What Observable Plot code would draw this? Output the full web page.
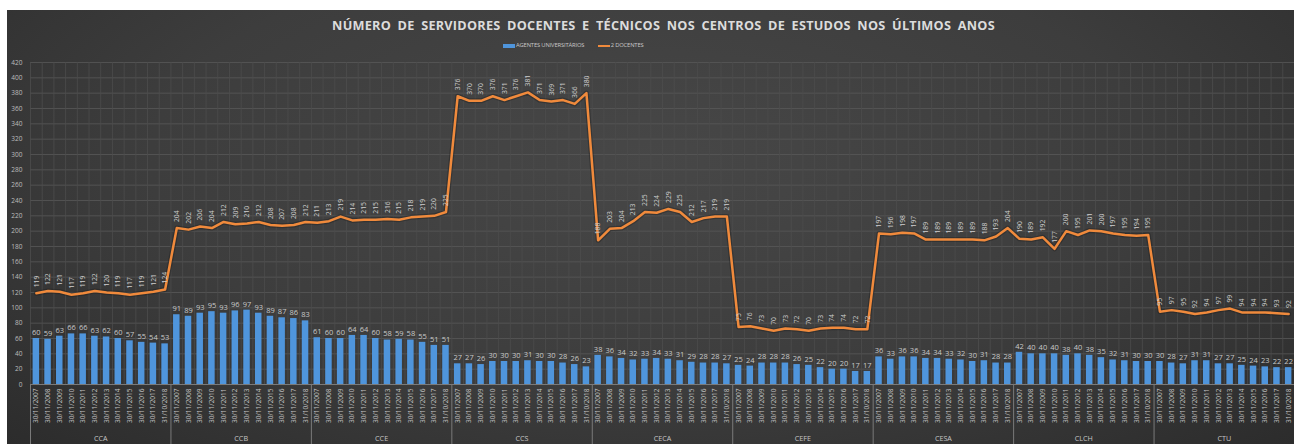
<!DOCTYPE html>
<html>
<head>
<meta charset="utf-8">
<script src="https://cdn.jsdelivr.net/npm/d3@7"></script>
<script src="https://cdn.jsdelivr.net/npm/@observablehq/plot@0.6"></script>
<style>
  html, body { margin: 0; padding: 0; background: #ffffff; }
  #frame {
    position: absolute; left: 7px; top: 10px; width: 1287px; height: 434px;
    background: radial-gradient(ellipse at 50% 35%, #474747 0%, #3d3d3d 55%, #2c2c2c 100%);
    font-family: "Open Sans", sans-serif; overflow: hidden;
  }
  #title {
    position: absolute; left: 26px; top: 6px; width: 1261px; text-align: center;
    color: #dcdcdc; font-weight: 700; font-size: 12.7px; letter-spacing: 0.25px; word-spacing: 3px;
  }
  #legend {
    position: absolute; left: 496px; top: 31px; white-space: nowrap;
    color: #c8c8c8; font-size: 5.8px; letter-spacing: -0.15px;
  }
  #legend span.item { display: inline-block; margin-right: 12px; vertical-align: middle; }
  #legend i { display: inline-block; width: 12px; vertical-align: middle; margin-right: 1px; }
  #chart { position: absolute; left: 0; top: 42px; }
</style>
</head>
<body>
<div id="frame">
  <div id="title">NÚMERO DE SERVIDORES DOCENTES E TÉCNICOS NOS CENTROS DE ESTUDOS NOS ÚLTIMOS ANOS</div>
  <div id="legend">
    <span class="item"><i style="height:4px;background:#4f95dc"></i>AGENTES UNIVERSITÁRIOS</span>
    <span class="item"><i style="height:2px;background:#f08a3c"></i>2 DOCENTES</span>
  </div>
  <div id="chart"></div>
</div>
<script>
const groups = ["CCA", "CCB", "CCE", "CCS", "CECA", "CEFE", "CESA", "CLCH", "CTU"];
const dates = ["30/11/2007", "30/11/2008", "30/11/2009", "30/11/2010", "30/11/2011", "30/11/2012",
               "30/11/2013", "30/11/2014", "30/11/2015", "30/11/2016", "30/11/2017", "31/10/2018"];
const yTicks = d3.range(0, 421, 20);

// Agentes universitários (bars), one list per centro
const agentesCCA  = [60, 59, 63, 66, 66, 63, 62, 60, 57, 55, 54, 53];
const agentesCCB  = [91, 89, 93, 95, 93, 96, 97, 93, 89, 87, 86, 83];
const agentesCCE  = [61, 60, 60, 64, 64, 60, 58, 59, 58, 55, 51, 51];
const agentesCCS  = [27, 27, 26, 30, 30, 30, 31, 30, 30, 28, 26, 23];
const agentesCECA = [38, 36, 34, 32, 33, 34, 33, 31, 29, 28, 28, 27];
const agentesCEFE = [25, 24, 28, 28, 28, 26, 25, 22, 20, 20, 17, 17];
const agentesCESA = [36, 33, 36, 36, 34, 34, 33, 32, 30, 31, 28, 28];
const agentesCLCH = [42, 40, 40, 40, 38, 40, 38, 35, 32, 31, 30, 30];
const agentesCTU  = [30, 28, 27, 31, 31, 27, 27, 25, 24, 23, 22, 22];

// Docentes (line), one list per centro
const docentesCCA  = [119, 122, 121, 117, 119, 122, 120, 119, 117, 119, 121, 124];
const docentesCCB  = [204, 202, 206, 204, 212, 209, 210, 212, 208, 207, 208, 212];
const docentesCCE  = [211, 213, 219, 214, 215, 215, 216, 215, 218, 219, 220, 225];
const docentesCCS  = [376, 370, 370, 376, 371, 376, 381, 371, 369, 371, 366, 380];
const docentesCECA = [188, 203, 204, 213, 225, 224, 229, 225, 212, 217, 219, 219];
const docentesCEFE = [75, 76, 73, 70, 73, 72, 70, 73, 74, 74, 72, 72];
const docentesCESA = [197, 196, 198, 197, 189, 189, 189, 189, 189, 188, 193, 204];
const docentesCLCH = [190, 189, 192, 177, 200, 195, 201, 200, 197, 195, 194, 195];
const docentesCTU  = [95, 97, 95, 92, 94, 97, 99, 94, 94, 94, 93, 92];

const agentes = [agentesCCA, agentesCCB, agentesCCE, agentesCCS, agentesCECA, agentesCEFE, agentesCESA, agentesCLCH, agentesCTU];
const docentes = [docentesCCA, docentesCCB, docentesCCE, docentesCCS, docentesCECA, docentesCEFE, docentesCESA, docentesCLCH, docentesCTU];

const rows = groups.flatMap((g, i) => dates.map((d, j) => ({
  key: g + "|" + d, group: g, date: d, agentes: agentes[i][j], docentes: docentes[i][j]
})));
const keys = rows.map(r => r.key);

const W = 1287, H = 392, mL = 23, mR = 0, mT = 10, mB = 60;
const step = (W - mL - mR) / keys.length;

const chart = Plot.plot({
  width: W, height: H,
  marginLeft: mL, marginRight: mR, marginTop: mT, marginBottom: mB,
  style: { background: "transparent", color: "#bdbdbd", fontFamily: "Open Sans, sans-serif", fontSize: "7px", overflow: "visible" },
  x: { type: "band", domain: keys, padding: 0, axis: null, label: null },
  y: { domain: [0, 420], axis: null, label: null },
  marks: [
    Plot.ruleY(yTicks, { stroke: "#585858", strokeWidth: 0.8 }),
    Plot.ruleX(keys, { x: d => d, dx: -step / 2, stroke: "#4c4c4c", strokeWidth: 0.8 }),
    Plot.barY(rows, { x: "key", y: "agentes", fill: "#4f95dc", insetLeft: 2.6, insetRight: 2.6 }),
    Plot.text(rows, { x: "key", y: "agentes", text: "agentes", dy: -6, fill: "#c9c9c9", fontSize: 7.5 }),
    Plot.line(rows, { x: "key", y: "docentes", stroke: "#1a1a1a", strokeWidth: 5, strokeOpacity: 0.35 }),
    Plot.line(rows, { x: "key", y: "docentes", stroke: "#f08a3c", strokeWidth: 2.5 }),
    Plot.text(rows, { x: "key", y: "docentes", text: "docentes", rotate: -90, textAnchor: "start", dy: -6, fill: "#cfcfcf", fontSize: 6.8 }),
    Plot.axisY(yTicks, { tickSize: 0, tickPadding: 8, fill: "#bdbdbd", fontSize: 6.5, label: null }),
    Plot.axisX({ tickRotate: -90, tickSize: 0, tickPadding: 4, tickFormat: k => k.split("|")[1], fill: "#c4c4c4", fontSize: 6.5, label: null }),
    Plot.ruleY([0], { stroke: "#7a7a7a", strokeWidth: 1 }),
    Plot.ruleX(groups, { x: g => g + "|" + dates[0], dx: -step / 2, y1: 0, y2: -80, stroke: "#7a7a7a", strokeWidth: 1 }),
    Plot.ruleX([keys[keys.length - 1]], { dx: step / 2, y1: 0, y2: -80, stroke: "#7a7a7a", strokeWidth: 1 }),
    Plot.text(groups, { x: g => g + "|" + dates[6], dx: -step / 2, y: -71, text: d => d, fill: "#c4c4c4", fontSize: 7.2 })
  ]
});
document.getElementById("chart").appendChild(chart);
</script>
</body>
</html>
